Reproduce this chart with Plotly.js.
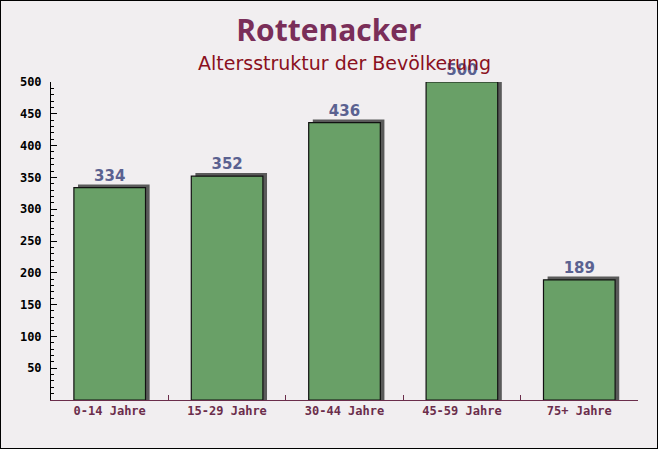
<!DOCTYPE html>
<html>
<head>
<meta charset="utf-8">
<script src="https://cdn.plot.ly/plotly-3.0.1.min.js"></script>
<style>
  body { margin: 0; }
  #chart { width: 656px; height: 447px; border: 1px solid #000; }
</style>
</head>
<body>
<div id="chart"></div>
<script>
// Altersgruppen und Einwohner
var groups = ['0-14 Jahre', '15-29 Jahre', '30-44 Jahre', '45-59 Jahre', '75+ Jahre'];
var people = [334, 352, 436, 500, 189];
var yTicks = [50, 100, 150, 200, 250, 300, 350, 400, 450, 500];

// grey "3D" shadow a bit right of and above every bar
var shadow = {
    x: groups,
    y: people.map(v => v + 5),
    type: 'bar',
    width: 0.61,
    offset: -0.27,
    marker: { color: '#5a5a5a' },
    hoverinfo: 'skip'
};

var bars = {
    x: groups,
    y: people,
    type: 'bar',
    width: 0.61,
    offset: -0.305,
    marker: {
        color: '#69a067',
        line: { color: '#111', width: 1.2 }
    },
    text: people.map(String),
    textposition: 'outside',
    cliponaxis: false,
    textfont: { family: 'DejaVu Sans', size: 15, color: '#5a6190', weight: 'bold' }
};

var layout = {
    width: 656,
    height: 447,
    margin: { l: 50, r: 19, t: 81, b: 48 },
    paper_bgcolor: '#f1eef0',
    plot_bgcolor: 'rgba(0,0,0,0)',
    barmode: 'overlay',
    showlegend: false,
    title: {
        text: '<b>Rottenacker</b>',
        x: 0.5,
        xanchor: 'center',
        y: 0.933,
        yanchor: 'middle',
        font: { family: 'Open Sans', size: 30, color: '#7a2e59' }
    },
    annotations: [{
        text: 'Altersstruktur der Bevölkerung',
        xref: 'paper', yref: 'paper',
        x: 0.5, y: 1.06,
        xanchor: 'center', yanchor: 'middle',
        showarrow: false,
        font: { family: 'DejaVu Sans', size: 19, color: '#8a1020' }
    }],
    xaxis: {
        type: 'category',
        range: [-0.5, 4.5],
        showline: true,
        linecolor: '#6b2d4b',
        linewidth: 1,
        ticks: 'inside',
        tickson: 'boundaries',
        ticklen: 5,
        tickcolor: '#6b2d4b',
        showgrid: false,
        tickfont: { family: 'DejaVu Sans Mono', size: 12, color: '#6b2d4b', weight: 'bold' }
    },
    yaxis: {
        range: [0, 500],
        showline: true,
        linecolor: '#000',
        linewidth: 1,
        ticks: 'inside',
        ticklen: 6,
        tickcolor: '#000',
        tickvals: yTicks,
        ticklabelstandoff: 6,
        minor: { dtick: 10, ticks: 'inside', ticklen: 3, tickcolor: '#000' },
        showgrid: false,
        zeroline: false,
        tickfont: { family: 'DejaVu Sans Mono', size: 12, color: '#000', weight: 'bold' }
    }
};

Plotly.newPlot('chart', [shadow, bars], layout, { displayModeBar: false });
</script>
</body>
</html>
